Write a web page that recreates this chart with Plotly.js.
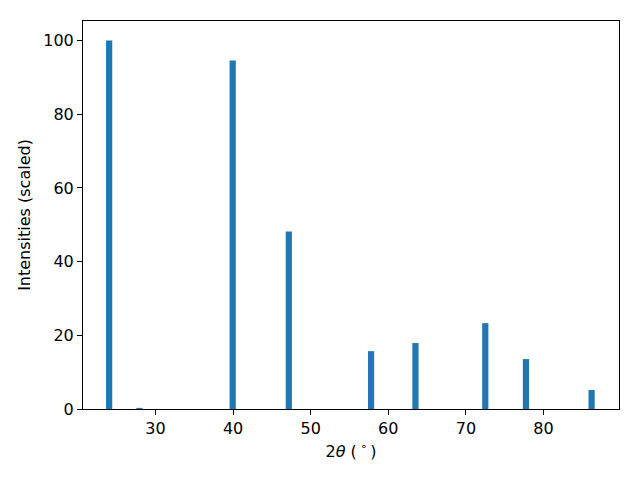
<!DOCTYPE html>
<html>
<head>
<meta charset="utf-8">
<script src="https://cdn.plot.ly/plotly-3.0.1.min.js"></script>
<style>html,body{margin:0;padding:0;background:#fff;}#chart{width:640px;height:480px;}</style>
</head>
<body>
<div id="chart"></div>
<script>
const twoTheta = [24.03, 27.93, 39.95, 47.18, 57.78, 63.5, 72.5, 77.74, 86.2];
const intensity = [100, 0.3, 94.6, 48.2, 15.7, 17.9, 23.3, 13.55, 5.15];
const barWidth = 0.8;
const xTicks = [30, 40, 50, 60, 70, 80];
const yTicks = [0, 20, 40, 60, 80, 100];

const font = {family: 'DejaVu Sans, sans-serif', size: 16, color: '#000'};
const axisCommon = {
  showline: true, mirror: true, linecolor: '#000', linewidth: 1,
  ticks: 'outside', ticklen: 5, tickwidth: 1, tickcolor: '#000',
  showgrid: false, zeroline: false, tickfont: font
};

Plotly.newPlot('chart', [{
  type: 'bar',
  x: twoTheta,
  y: intensity,
  width: twoTheta.map(() => barWidth),
  marker: {color: '#1f77b4', line: {width: 0}},
  hoverinfo: 'x+y'
}], {
  width: 640, height: 480,
  margin: {l: 83, r: 21, t: 21, b: 71},
  paper_bgcolor: '#fff', plot_bgcolor: '#fff',
  font: font,
  showlegend: false,
  xaxis: Object.assign({}, axisCommon, {
    range: [20.66, 89.73],
    tickvals: xTicks,
    title: {text: '2<i>θ</i> (\u2009<sup>∘</sup>\u2009)', font: font, standoff: 8}
  }),
  yaxis: Object.assign({}, axisCommon, {
    range: [0, 105.3],
    tickvals: yTicks,
    title: {text: 'Intensities (scaled)', font: font, standoff: 8}
  })
}, {displayModeBar: false, staticPlot: true});
</script>
</body>
</html>
